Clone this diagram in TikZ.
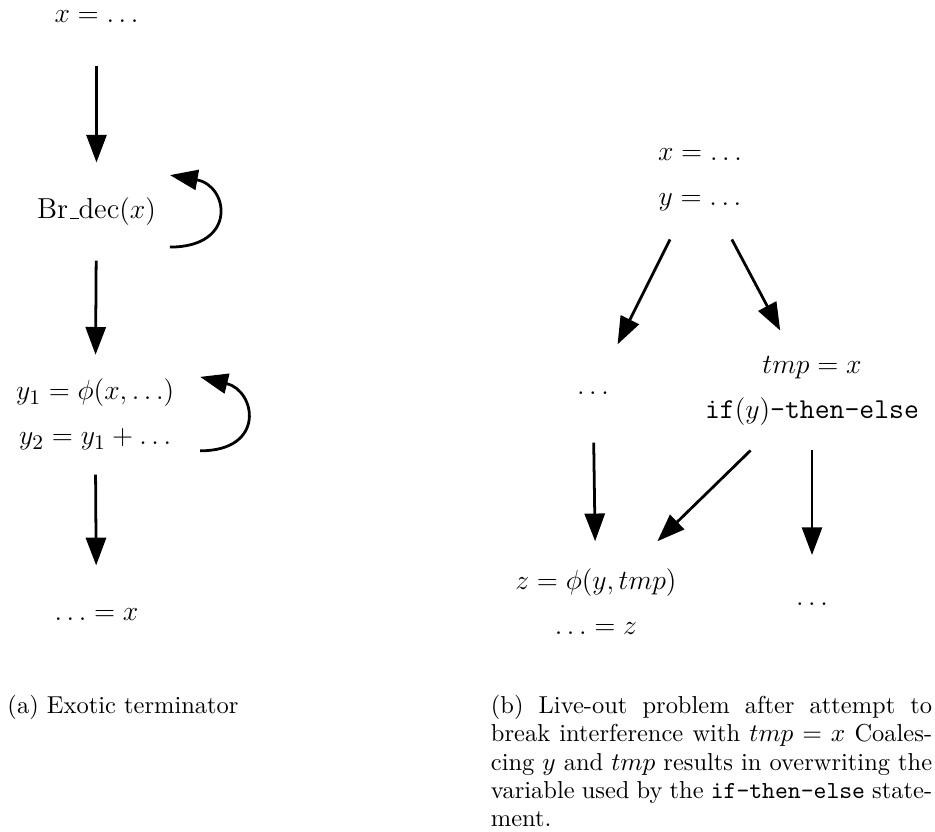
\documentclass[tikz,border=0pt]{standalone}
\usepackage{amsmath,amssymb}
\usepackage{tikz}
\usetikzlibrary{arrows.meta,positioning,calc}
% low underscore as in the old OT1 fonts
\newcommand{\brbar}{\leavevmode\kern.06em\vbox{\hrule width.3em}}

\begin{document}
\begin{tikzpicture}[node distance=3cm,
    stmt/.style={font=\fontsize{12.5}{19.5}\selectfont, align=center,
                 minimum width=1.4cm, minimum height=1.48cm, inner sep=2pt},
    tall/.style={stmt, minimum height=1.81cm},
    arrow/.style={-{Triangle[length=12pt,width=8.7pt]}, line width=1.2pt},
    selfloop/.style={arrow, out=0, in=-10, out distance=1.03cm, in distance=0.91cm},
    caption/.style={font=\fontsize{10.6}{12.2}\selectfont, inner sep=0pt, anchor=base west}
  ]
    \useasboundingbox (0,0) rectangle (14.225,-12.643);

    % (a) left graph
    \node[stmt] (defx) at (1.468,-0.259) {$x = \ldots$};
    \node[stmt, below of=defx, yshift=0.04cm] (brdec) {Br\brbar dec$(x)$};
    \node[tall, below of=brdec, xshift=-0.02cm, yshift=-0.09cm] (phiy) {$y_1 = \phi(x, \ldots)$\\$y_2 = y_1 + \ldots$};
    \node[stmt, below of=phiy, xshift=0.02cm, yshift=-0.04cm] (usex) {$\ldots = x$};

    \draw[arrow] (defx) -- (brdec);
    \draw[arrow] (brdec) -- (phiy);
    \draw[arrow] (phiy) -- (usex);
    \draw[selfloop] ([shift={(1.118,-0.54)}]brdec.center) to ([shift={(1.118,0.555)}]brdec.center);
    \draw[selfloop, in=-14, out distance=1.0cm, in distance=0.88cm] ([shift={(1.597,-0.55)}]phiy.center) to ([shift={(1.597,0.575)}]phiy.center);

    % (b) right graph
    \node[tall] (defxy) at (10.65,-2.731) {$x = \ldots$\\$y = \ldots$};
    \node[stmt] (dotsl) at (9.022,-5.987) {$\ldots$};
    \node[tall] (tmpx) at (12.354,-5.941) {$tmp = x$\\\texttt{if}$(y)$\texttt{-then-else}};
    \node[tall, below of=dotsl, xshift=0.045cm, yshift=-0.16cm] (phiz) {$z = \phi(y, tmp)$\\$\ldots = z$};
    \node[stmt, below of=tmpx, yshift=-0.25cm] (dotsr) {$\ldots$};

    \draw[arrow] (defxy) -- (dotsl);
    \draw[arrow] (defxy) -- (tmpx);
    \draw[arrow] (dotsl) -- (phiz);
    \draw[arrow] (tmpx) -- (phiz);
    \draw[arrow] (tmpx) -- (dotsr);

    % subcaptions
    \node[caption] (capa) at (0.107,-10.86) {(a) Exotic terminator};
    \node[caption, text width=191pt, align=justify] (capb) at (7.462,-10.86)
      {(b) Live-out problem after attempt to\linebreak break interference with
       $tmp = x$ Coales-\linebreak cing $y$ and $tmp$ results in overwriting the\linebreak
       variable used by the \texttt{if-then-else} state-\linebreak ment.};
\end{tikzpicture}
\end{document}
